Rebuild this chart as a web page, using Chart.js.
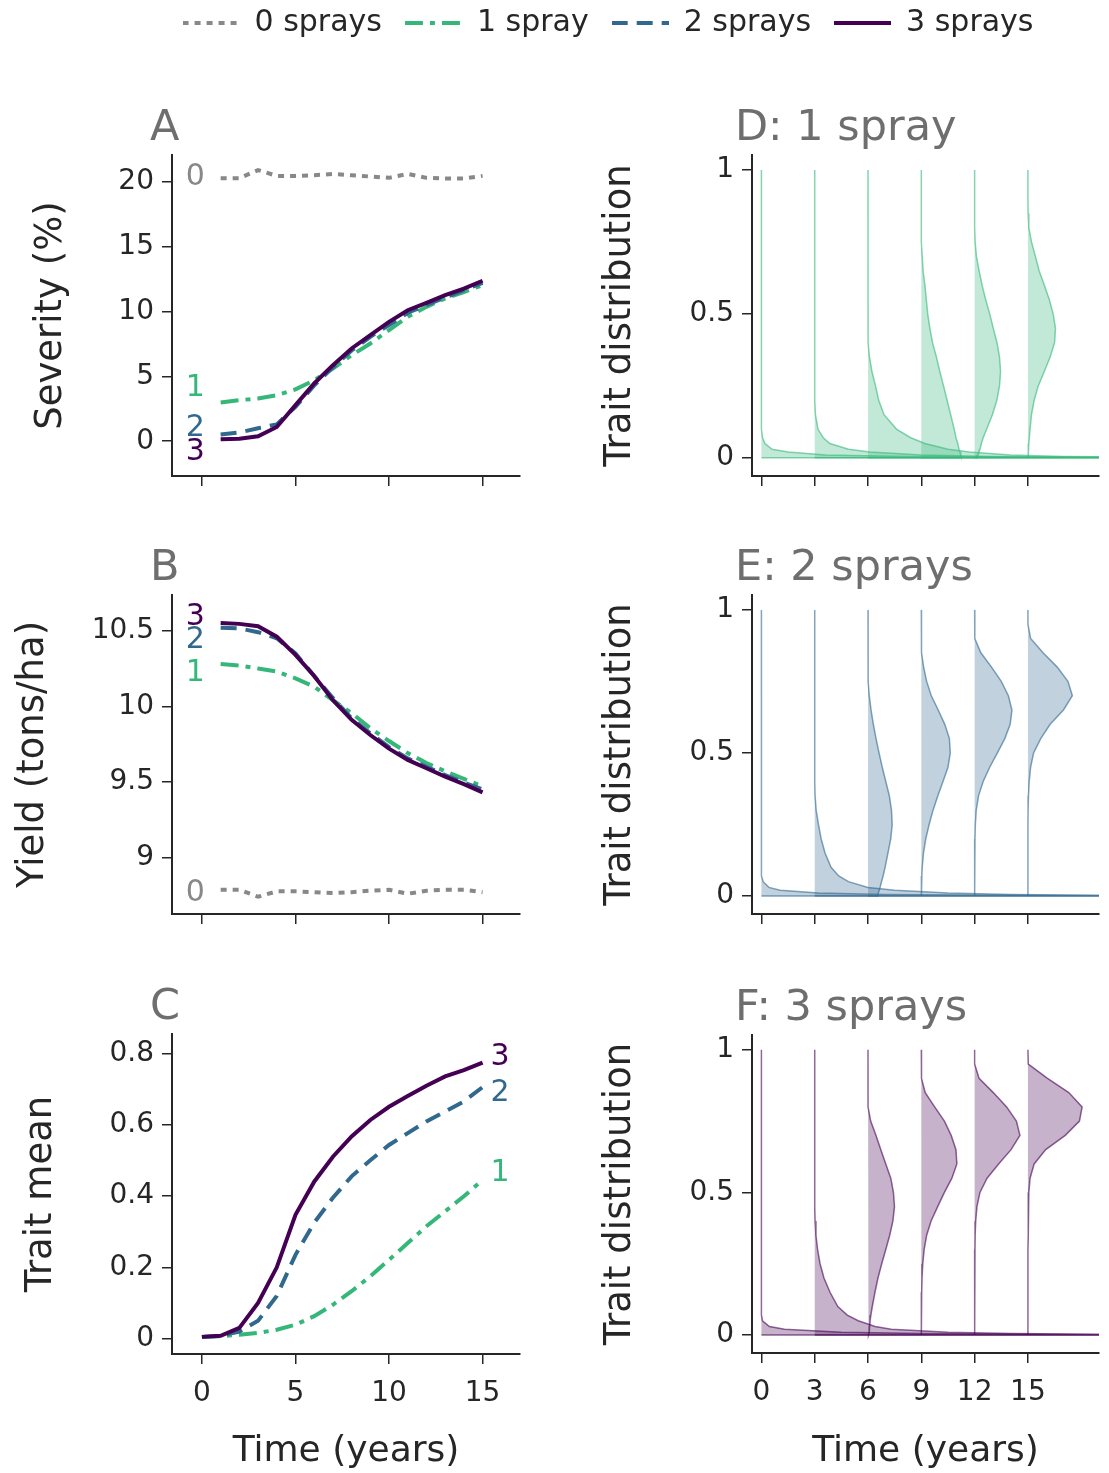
<!DOCTYPE html>
<html>
<head>
<meta charset="utf-8">
<title>Spray programmes: severity, yield and trait</title>
<script src="https://cdn.jsdelivr.net/npm/chart.js@4.4.1/dist/chart.umd.min.js"></script>
<style>
  html, body { margin: 0; padding: 0; background: #fff; }
  #fig { position: relative; width: 1109px; height: 1473px; overflow: hidden; }
  #fig canvas { position: absolute; }
</style>
</head>
<body>
<div id="fig">
  <canvas id="legendChart" width="1002" height="130" style="left:107px;top:-15px"></canvas>
  <canvas id="chartA" width="560" height="440" style="left:0;top:60px"></canvas>
  <canvas id="chartB" width="560" height="440" style="left:0;top:500px"></canvas>
  <canvas id="chartC" width="560" height="533" style="left:0;top:940px"></canvas>
  <canvas id="chartD" width="549" height="440" style="left:560px;top:60px"></canvas>
  <canvas id="chartE" width="549" height="440" style="left:560px;top:500px"></canvas>
  <canvas id="chartF" width="549" height="533" style="left:560px;top:940px"></canvas>
</div>
<script>
// ---- data ----
var seriesNames = ['0 sprays', '1 spray', '2 sprays', '3 sprays'];

var years = [1, 2, 3, 4, 5, 6, 7, 8, 9, 10, 11, 12, 13, 14, 15];
var yearsC = [0, 1, 2, 3, 4, 5, 6, 7, 8, 9, 10, 11, 12, 13, 14, 15];
var timeTicks = [0, 5, 10, 15];

var severity0 = [20.27, 20.27, 20.9, 20.45, 20.45, 20.5, 20.6, 20.5, 20.4, 20.3, 20.6, 20.3, 20.25, 20.25, 20.45];
var severity1 = [2.98, 3.16, 3.3, 3.55, 4.0, 4.7, 5.6, 6.63, 7.53, 8.56, 9.59, 10.36, 11.0, 11.5, 12.03];
var severity2 = [0.51, 0.67, 1.0, 1.3, 2.65, 4.3, 5.7, 7.0, 8.05, 8.95, 9.9, 10.5, 11.08, 11.65, 12.2];
var severity3 = [0.15, 0.2, 0.38, 1.1, 2.78, 4.45, 5.86, 7.15, 8.17, 9.2, 10.1, 10.67, 11.26, 11.77, 12.37];
var severityTicks = [0, 5, 10, 15, 20];

var yield0 = [8.786, 8.786, 8.74, 8.776, 8.776, 8.77, 8.764, 8.77, 8.78, 8.786, 8.76, 8.78, 8.786, 8.786, 8.77];
var yield1 = [10.28, 10.27, 10.25, 10.23, 10.185, 10.13, 10.04, 9.955, 9.855, 9.77, 9.69, 9.625, 9.57, 9.52, 9.47];
var yield2 = [10.52, 10.515, 10.49, 10.45, 10.35, 10.2, 10.055, 9.92, 9.82, 9.73, 9.655, 9.6, 9.545, 9.495, 9.45];
var yield3 = [10.55, 10.545, 10.53, 10.46, 10.34, 10.2, 10.04, 9.91, 9.81, 9.72, 9.645, 9.59, 9.535, 9.485, 9.43];
var yieldTicks = [9, 9.5, 10, 10.5];

var mean1 = [0.005, 0.007, 0.011, 0.016, 0.025, 0.039, 0.063, 0.095, 0.133, 0.175, 0.221, 0.268, 0.315, 0.357, 0.399, 0.445];
var mean2 = [0.005, 0.008, 0.02, 0.05, 0.12, 0.235, 0.325, 0.395, 0.455, 0.5, 0.543, 0.576, 0.609, 0.637, 0.665, 0.705];
var mean3 = [0.005, 0.008, 0.03, 0.1, 0.2, 0.347, 0.44, 0.51, 0.567, 0.613, 0.65, 0.68, 0.709, 0.735, 0.753, 0.774];
var meanTicks = [0, 0.2, 0.4, 0.6, 0.8];

// trait distributions: one width profile (in years) per snapshot, sampled at traitLevels
var snapshotTimes = [0, 3, 6, 9, 12, 15];
var traitLevels = [1, 0.95, 0.9, 0.85, 0.8, 0.75, 0.7, 0.65, 0.6, 0.55, 0.5, 0.45, 0.4, 0.35, 0.3, 0.25, 0.2, 0.15, 0.1, 0.07, 0.05, 0.03, 0.02, 0.01, 0.005, 0];
var distTicks = [0, 0.5, 1];

var spray1Widths = [
  [0,0,0,0,0,0,0,0,0,0,0,0,0,0,0,0,0,0,0.01,0.06,0.2,0.6,1.5,3.6,8,22],
  [0,0,0,0,0,0,0,0,0,0,0,0,0,0,0,0,0.01,0.04,0.18,0.48,0.85,1.9,3.1,6,10,22],
  [0,0,0,0,0,0,0,0,0,0,0,0,0.02,0.08,0.22,0.42,0.6,0.9,1.6,2.4,3.2,4.5,5.7,8,11,22],
  [0,0,0,0,0,0,0.05,0.1,0.2,0.28,0.36,0.48,0.63,0.85,1.04,1.25,1.45,1.65,1.85,1.95,2.05,2.12,2.18,2.22,2.24,2.25],
  [0,0,0,0,0,0.03,0.1,0.25,0.42,0.62,0.85,1.05,1.26,1.4,1.46,1.4,1.25,1.0,0.68,0.48,0.38,0.3,0.25,0.18,0.14,0.1],
  [0,0,0,0.01,0.05,0.2,0.42,0.63,0.92,1.2,1.42,1.55,1.5,1.25,0.92,0.58,0.35,0.2,0.12,0.08,0.05,0.03,0.02,0.01,0,0]
];
var spray2Widths = [
  [0,0,0,0,0,0,0,0,0,0,0,0,0,0,0,0,0,0,0,0.02,0.1,0.42,1.05,3.2,7,22],
  [0,0,0,0,0,0,0,0,0,0,0,0,0,0.02,0.08,0.21,0.36,0.58,0.92,1.35,1.9,3.0,4.5,7.5,11,22],
  [0,0,0,0,0,0.03,0.07,0.17,0.3,0.45,0.62,0.8,1.0,1.2,1.32,1.36,1.28,1.12,0.96,0.85,0.76,0.68,0.63,0.58,0.56,0.55],
  [0,0,0,0.03,0.13,0.3,0.56,0.95,1.32,1.58,1.63,1.5,1.22,0.93,0.66,0.44,0.25,0.12,0.05,0.03,0.02,0.01,0,0,0,0],
  [0,0,0.02,0.35,0.95,1.5,1.9,2.1,2.0,1.7,1.28,0.85,0.48,0.22,0.09,0.04,0.02,0.01,0,0,0,0,0,0,0,0],
  [0,0,0.15,0.85,1.65,2.25,2.5,2.0,1.25,0.72,0.32,0.15,0.07,0.03,0.01,0,0,0,0,0,0,0,0,0,0,0]
];
var spray3Widths = [
  [0,0,0,0,0,0,0,0,0,0,0,0,0,0,0,0,0,0,0,0,0.06,0.45,1.3,4.5,9,22],
  [0,0,0,0,0,0,0,0,0,0,0,0,0.02,0.07,0.16,0.3,0.52,0.86,1.3,1.83,2.45,3.4,4.3,7.5,11,22],
  [0,0,0,0,0,0.15,0.45,0.72,1.0,1.28,1.43,1.49,1.4,1.22,1.0,0.77,0.56,0.39,0.24,0.16,0.12,0.09,0.08,0.06,0.05,0.05],
  [0,0,0.02,0.22,0.75,1.3,1.68,1.95,2.0,1.72,1.3,0.92,0.55,0.3,0.16,0.08,0.04,0.02,0.01,0,0,0,0,0,0,0],
  [0,0,0.25,1.05,1.8,2.35,2.55,2.05,1.35,0.7,0.3,0.13,0.06,0.03,0.02,0.01,0,0,0,0,0,0,0,0,0,0],
  [0,0.02,1.1,2.3,3.05,2.9,2.1,1.0,0.35,0.12,0.05,0.03,0.02,0.01,0,0,0,0,0,0,0,0,0,0,0,0]
];

// ---- styling ----
var ink = '#262626';
var panelGrey = '#6e6e6e';
var seriesColors = ['#888888', '#35b779', '#31688e', '#440154'];
var seriesDash = [[6, 6], [18, 7, 5, 7], [16, 9], []];

Chart.defaults.font.family = 'DejaVu Sans';
Chart.defaults.color = ink;
Chart.defaults.animation = false;

function rgba(hex, a) {
  var n = parseInt(hex.slice(1), 16);
  return 'rgba(' + (n >> 16) + ',' + ((n >> 8) & 255) + ',' + (n & 255) + ',' + a + ')';
}

function fixedTicks(list) {
  return function (scale) {
    scale.ticks = list.map(function (v) { return { value: v }; });
  };
}

// small dashed line samples used as legend point styles
function lineSwatch(i) {
  var c = document.createElement('canvas');
  c.width = 57; c.height = 8;
  var g = c.getContext('2d');
  g.strokeStyle = seriesColors[i];
  g.lineWidth = 4;
  g.setLineDash(seriesDash[i]);
  g.beginPath(); g.moveTo(0, 4); g.lineTo(57, 4); g.stroke();
  return c;
}

// panel letter plus the little series numbers next to the lines
function annotate(panel, dx, tags) {
  return {
    id: 'annotate',
    afterDraw: function (chart) {
      var ctx = chart.ctx, area = chart.chartArea;
      ctx.save();
      ctx.font = '43px "DejaVu Sans"';
      ctx.fillStyle = panelGrey;
      ctx.textAlign = 'left';
      ctx.textBaseline = 'alphabetic';
      ctx.fillText(panel, area.left + dx, area.top - 15);
      ctx.font = '30px "DejaVu Sans"';
      ctx.textAlign = 'center';
      ctx.textBaseline = 'middle';
      (tags || []).forEach(function (t) {
        ctx.fillStyle = seriesColors[t.series];
        ctx.fillText(String(t.series), chart.scales.x.getPixelForValue(t.x), chart.scales.y.getPixelForValue(t.y));
      });
      ctx.restore();
    }
  };
}

function xAxis(min, max, ticks, height, showLabels) {
  return {
    type: 'linear', min: min, max: max,
    afterBuildTicks: fixedTicks(ticks),
    afterFit: function (s) { s.height = height; },
    border: { color: ink, width: 2 },
    grid: { drawOnChartArea: false, drawTicks: true, tickLength: 10, color: ink, lineWidth: 1.5 },
    ticks: { display: showLabels, padding: 16, autoSkip: false, maxRotation: 0, color: ink,
             font: { size: 28, lineHeight: 1 }, callback: function (v) { return String(v); } },
    title: { display: showLabels, text: 'Time (years)', color: ink, font: { size: 36 }, padding: { top: 0, bottom: 0 } }
  };
}

function yAxis(min, max, ticks, width, title, titlePad) {
  return {
    type: 'linear', min: min, max: max,
    afterBuildTicks: fixedTicks(ticks),
    afterFit: function (s) { s.width = width; },
    border: { color: ink, width: 2 },
    grid: { drawOnChartArea: false, drawTicks: true, tickLength: 10, color: ink, lineWidth: 1.5 },
    ticks: { padding: 8, color: ink, font: { size: 28, lineHeight: 1 }, callback: function (v) { return String(v); } },
    title: { display: true, text: title, color: ink, font: { size: 37 }, padding: { top: titlePad, bottom: 0 } }
  };
}

function seriesSet(idx, xs, ys) {
  return {
    label: seriesNames[idx],
    data: xs.map(function (x, i) { return { x: x, y: ys[i] }; }),
    borderColor: seriesColors[idx],
    borderDash: seriesDash[idx],
    borderWidth: 4,
    pointRadius: 0,
    fill: false,
    tension: 0
  };
}

function distSets(widths, color) {
  return snapshotTimes.map(function (t, k) {
    var pts = traitLevels.map(function (lvl, i) { return { x: t + widths[k][i], y: lvl }; });
    pts.push({ x: t, y: 0 });
    return {
      data: pts, showLine: true, fill: 'shape',
      backgroundColor: rgba(color, 0.3), borderColor: rgba(color, 0.6),
      borderWidth: 1.5, pointRadius: 0, tension: 0
    };
  });
}

// ---- legend ----
var swatches = seriesNames.map(function (n, i) { return lineSwatch(i); });

new Chart(document.getElementById('legendChart'), {
  type: 'line',
  data: {
    datasets: seriesNames.map(function (name, i) {
      return { label: name, data: [], borderColor: seriesColors[i], backgroundColor: seriesColors[i],
               borderDash: seriesDash[i], borderWidth: 4 };
    })
  },
  options: {
    responsive: false,
    scales: { x: { display: false }, y: { display: false } },
    plugins: {
      tooltip: { enabled: false },
      legend: {
        display: true,
        maxHeight: 100,
        labels: {
          usePointStyle: true, pointStyleWidth: 57, padding: 23, color: ink, font: { size: 30 },
          generateLabels: function (chart) {
            var items = Chart.defaults.plugins.legend.labels.generateLabels(chart);
            items.forEach(function (it, i) { it.pointStyle = swatches[i]; });
            return items;
          }
        }
      }
    }
  }
});

// ---- left column ----
function leftChart(id, datasets, yMin, yMax, yTicks, title, titlePad, panel, tags, xHeight, showX) {
  return new Chart(document.getElementById(id), {
    type: 'line',
    data: { datasets: datasets },
    options: {
      responsive: false,
      layout: { padding: { top: id === 'chartC' ? 94 : 95, right: 40, left: 0, bottom: 0 } },
      plugins: { legend: { display: false }, tooltip: { enabled: false } },
      scales: {
        x: xAxis(-1.6, 17, timeTicks, xHeight, showX),
        y: yAxis(yMin, yMax, yTicks, 172, title, titlePad)
      }
    },
    plugins: [annotate(panel, -22, tags)]
  });
}

leftChart('chartA',
  [seriesSet(3, years, severity3), seriesSet(2, years, severity2), seriesSet(1, years, severity1), seriesSet(0, years, severity0)],
  -2.68, 22.06, severityTicks, 'Severity (%)', 29, 'A',
  [{ series: 0, x: -0.36, y: 20.33 }, { series: 1, x: -0.36, y: 4.09 }, { series: 2, x: -0.36, y: 1.04 }, { series: 3, x: -0.36, y: -0.83 }],
  24, false);

leftChart('chartB',
  [seriesSet(3, years, yield3), seriesSet(2, years, yield2), seriesSet(1, years, yield1), seriesSet(0, years, yield0)],
  8.626, 10.736, yieldTicks, 'Yield (tons/ha)', 11, 'B',
  [{ series: 3, x: -0.36, y: 10.587 }, { series: 2, x: -0.36, y: 10.435 }, { series: 1, x: -0.36, y: 10.219 }, { series: 0, x: -0.36, y: 8.765 }],
  26, false);

leftChart('chartC',
  [seriesSet(3, yearsC, mean3), seriesSet(2, yearsC, mean2), seriesSet(1, yearsC, mean1)],
  -0.043, 0.854, meanTicks, 'Trait mean', 19, 'C',
  [{ series: 3, x: 15.93, y: 0.789 }, { series: 2, x: 15.93, y: 0.689 }, { series: 1, x: 15.93, y: 0.465 }],
  119, true);

// ---- right column ----
function distChart(id, widths, color, panel, xHeight, showX) {
  return new Chart(document.getElementById(id), {
    type: 'scatter',
    data: { datasets: distSets(widths, color) },
    options: {
      responsive: false,
      layout: { padding: { top: 95, right: 10, left: 0, bottom: 0 } },
      plugins: { legend: { display: false }, tooltip: { enabled: false } },
      scales: {
        x: xAxis(-0.53, 19, snapshotTimes, xHeight, showX),
        y: yAxis(-0.063, 1.052, distTicks, 192, 'Trait distribution', 38)
      }
    },
    plugins: [annotate(panel, -17, [])]
  });
}

distChart('chartD', spray1Widths, seriesColors[1], 'D: 1 spray', 24, false);
distChart('chartE', spray2Widths, seriesColors[2], 'E: 2 sprays', 26, false);
distChart('chartF', spray3Widths, seriesColors[3], 'F: 3 sprays', 120, true);
</script>
</body>
</html>
